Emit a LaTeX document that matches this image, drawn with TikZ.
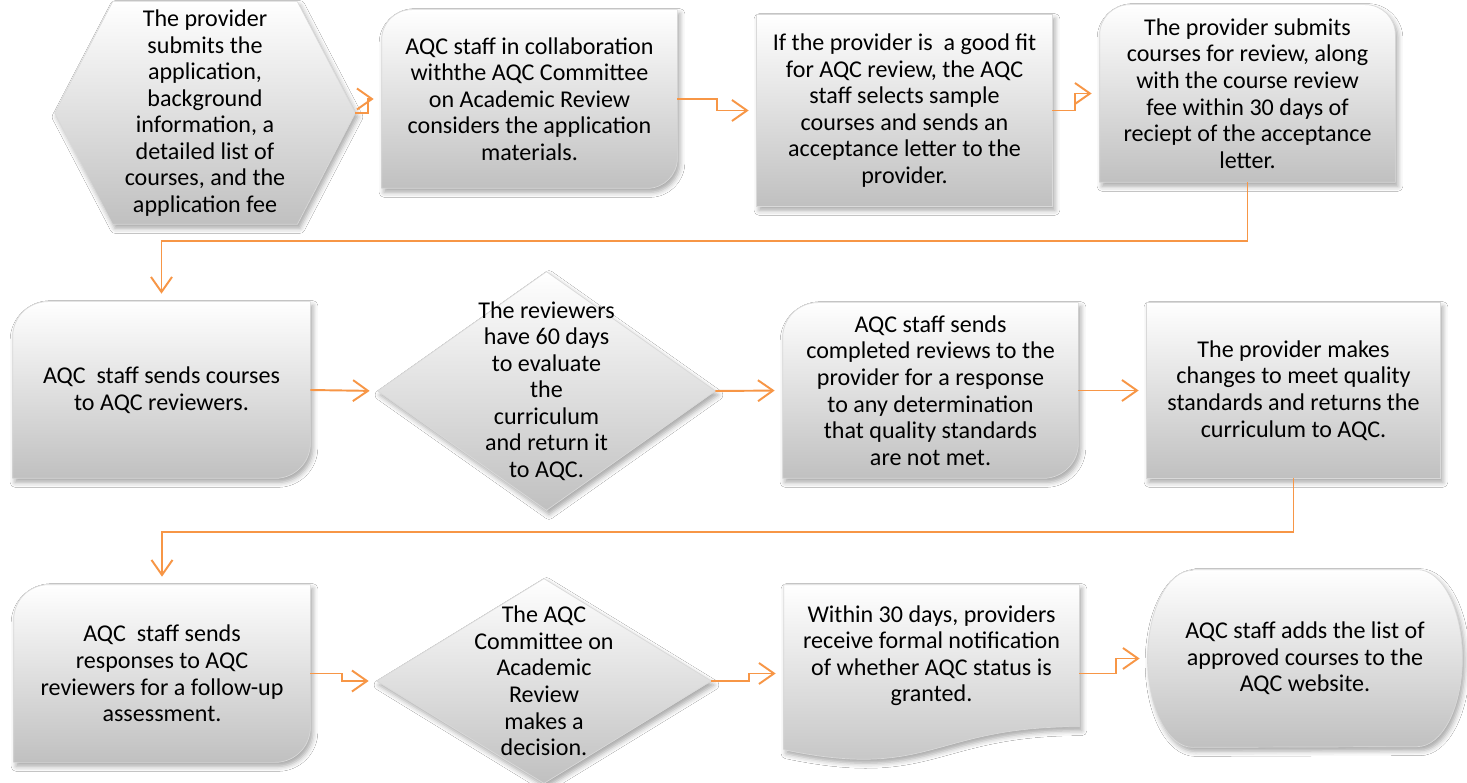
\documentclass[tikz,border=0pt]{standalone}
\usepackage{fontspec}
\setmainfont{Carlito}
\usepackage{tikz}
\usetikzlibrary{calc,arrows.meta,backgrounds,shadows.blur}
\definecolor{flow}{HTML}{F79646}
\definecolor{shadegray}{HTML}{C0C0C0}
\definecolor{ink}{HTML}{000000}
\tikzset{
  stage/.style={inner sep=0pt, align=center, text=ink, font=\fontsize{13.7pt}{15.1pt}\selectfont},
  sz/.style 2 args={minimum width=#1*0.02cm, minimum height=#2*0.02cm},
  bevel/.style={top color=white, bottom color=shadegray, draw=black!15, line width=0.4pt,
    blur shadow={shadow xshift=0.05cm, shadow yshift=-0.08cm, shadow blur radius=0.1cm, shadow opacity=35}},
  link/.style={draw=flow, line width=1.1pt, -{Straight Barb[length=0.3cm,width=0.42cm]}, shorten >=0.16cm},
}
\newcommand\diagshape[2]{%
  \path[bevel] ($(#1.north west)+(0,-#2)$) arc[start angle=180,end angle=90,radius=#2]
    -- (#1.north east) -- ($(#1.south east)+(0,#2)$) arc[start angle=0,end angle=-90,radius=#2]
    -- (#1.south west) -- cycle;}

\begin{document}
\begin{tikzpicture}[x=0.02cm, y=0.02cm]
  \path[use as bounding box] (0,0) rectangle (1467,-783);

  \node[stage, sz={300}{222}] (apply) at (205,-113) {The provider\\submits the\\application,\\background\\information, a\\detailed list of\\courses, and the\\application fee};
  \node[stage, sz={295}{178}] (consider) at (529.5,-99) {AQC staff in collaboration\\withthe AQC Committee\\on Academic Review\\considers the application\\materials.};
  \node[stage, sz={295}{191}] (fit) at (904.5,-110.5) {If the provider is\ \ a good fit\\for AQC review, the AQC\\staff selects sample\\courses and sends an\\acceptance letter to the\\provider.};
  \node[stage, sz={295}{177}] (submit) at (1247.5,-93.5) {The provider submits\\courses for review, along\\with the course review\\fee within 30 days of\\reciept of the acceptance\\letter.};

  \node[stage, sz={297}{176}] (send) at (161.5,-390) {AQC\ \ staff sends courses\\to AQC reviewers.};
  \node[stage, sz={337}{238}] (evaluate) at (546.5,-391) {The reviewers\\have 60 days\\to evaluate\\the\\curriculum\\and return it\\to AQC.};
  \node[stage, sz={295}{175}] (reviews) at (930.5,-390.5) {AQC staff sends\\completed reviews to the\\provider for a response\\to any determination\\that quality standards\\are not met.};
  \node[stage, sz={293}{175}] (changes) at (1293.5,-390.5) {The provider makes\\changes to meet quality\\standards and returns the\\curriculum to AQC.};

  \node[stage, sz={296}{177}] (followup) at (162,-673.5) {AQC\ \ staff sends\\responses to AQC\\reviewers for a follow-up\\assessment.};
  \node[stage, sz={334}{204}] (decide) at (544,-681) {The AQC\\Committee on\\Academic\\Review\\makes a\\decision.};
  \node[stage, sz={295}{177}, text depth=0.8cm] (notify) at (931.5,-673.5) {Within 30 days, providers\\receive formal notification\\of whether AQC status is\\granted.};
  \node[stage, sz={314}{177}] (website) at (1305,-658.5) {AQC staff adds the list of\\approved courses to the\\AQC website.};

  \draw[link] (apply.east) -- ++(13,0) |- (consider.west);
  \draw[link] (consider.east) -- ++(40,0) |- (fit.west);
  \draw[link] (fit.east) -- ++(23,0) |- (submit.west);
  \draw[link] (submit.south) -- ++(0,-59) -| (send.north);
  \draw[link] (send.east) -- (evaluate.west);
  \draw[link] (evaluate.east) -- (reviews.west);
  \draw[link] (reviews.east) -- (changes.west);
  \draw[link] (changes.south) -- ++(0,-54) -| (followup.north);
  \draw[link] (followup.east) -- ++(32,0) |- (decide.west);
  \draw[link] (decide.east) -- ++(38,0) |- (notify.west);
  \draw[link] (notify.east) -- ++(37,0) |- (website.west);

  \begin{scope}[on background layer]
    \fill[white] (0,0) rectangle (1467,-783);
    \path[bevel] (apply.west) -- ($(apply.north west)+(58,0)$) -- ($(apply.north east)+(-58,0)$) -- (apply.east)
      -- ($(apply.south east)+(-58,0)$) -- ($(apply.south west)+(58,0)$) -- cycle;
    \diagshape{consider}{30}
    \path[bevel] (fit.north west) rectangle (fit.south east);
    \path[bevel] (submit.south west) -- ($(submit.north west)+(0,-30)$) arc[start angle=180,end angle=90,radius=30]
      -- ($(submit.north east)+(-30,0)$) arc[start angle=90,end angle=0,radius=30] -- (submit.south east) -- cycle;
    \diagshape{send}{35}
    \path[bevel] (evaluate.west) -- (evaluate.north) -- (evaluate.east) -- (evaluate.south) -- cycle;
    \diagshape{reviews}{35}
    \path[bevel] (changes.north west) rectangle (changes.south east);
    \diagshape{followup}{35}
    \path[bevel] (decide.west) -- (decide.north) -- (decide.east) -- (decide.south) -- cycle;
    \path[bevel] (notify.north west) -- (notify.north east) -- ($(notify.north east)+(0,-142)$)
      .. controls ($(notify.north west)+(147.5,-142)$) and ($(notify.north west)+(147.5,-196)$) .. ($(notify.north west)+(0,-165)$) -- cycle;
    \path[bevel] ($(website.north west)+(45,0)$) -- ($(website.north east)+(-45,0)$) arc[start angle=90,end angle=-90,x radius=45,y radius=88.5]
      -- ($(website.south west)+(45,0)$) arc[start angle=270,end angle=90,x radius=45,y radius=88.5] -- cycle;
  \end{scope}
\end{tikzpicture}
\end{document}
